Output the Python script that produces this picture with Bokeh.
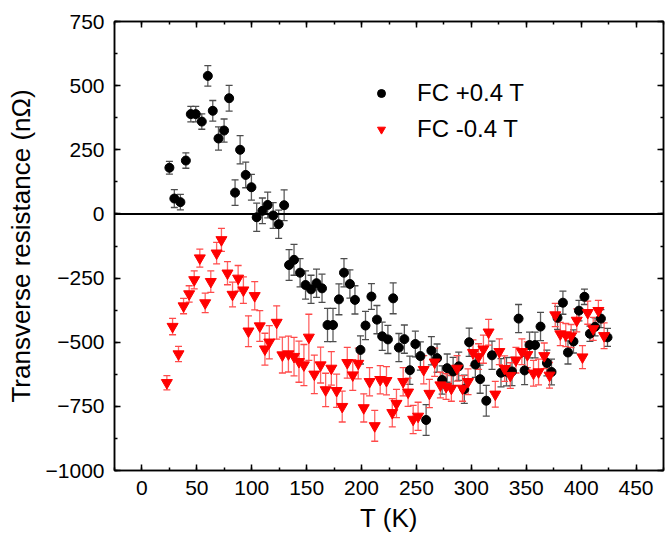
import numpy as np
from bokeh.plotting import figure
from bokeh.models import (ColumnDataSource, Whisker, TeeHead, Span, LinearAxis,
                          Legend, LegendItem, FixedTicker, Range1d)
from bokeh.embed import file_html
from bokeh.resources import INLINE

# ---- data: FC +0.4 T (black circles) ----
T_pos = [25, 29.5, 35, 40, 44.5, 49, 54.5, 60, 64.5, 69.7, 74.8, 79.4, 84.8, 89.4, 94.5,
         99.7, 104.5, 109.7, 114.5, 119.5, 124.5, 129.5, 134, 138.5, 144, 149, 154, 159,
         164, 169, 174, 179.4, 184, 189.4, 194, 199, 203.6, 209, 214, 218.8, 224, 228.8,
         234, 239, 244, 249, 253.6, 258.8, 263.6, 268.8, 273.4, 278, 283.4, 288.5, 293.6,
         298, 303.6, 308, 313.6, 318.8, 327, 332, 337, 343, 348.5, 353, 358, 363, 368.8,
         373, 378.5, 383.4, 388, 393, 398, 403, 408, 412.7, 418, 424]
R_pos = [180, 60, 46, 208, 389, 389, 360, 538, 402, 294, 325, 451, 83, 250, 152,
         104, -13, 12, 35, -6, -40, 34, -199, -179, -229, -277, -294, -270,
         -290, -433, -433, -333, -229, -273, -335, -530, -435, -322, -412, -477, -489, -329,
         -521, -488, -609, -507, -554, -803, -533, -562, -647, -601, -614, -594, -683,
         -500, -587, -644, -728, -551, -619, -615, -614, -408, -610, -511, -511, -439, -581,
         -616, -405, -346, -540, -497, -377, -323, -467, -440, -408, -481]
E_pos = [25, 35, 30, 30, 30, 30, 30, 40, 40, 45, 45, 50, 50, 55, 50,
         50, 55, 50, 50, 50, 55, 60, 60, 60, 55, 55, 55, 55,
         55, 65, 65, 60, 55, 55, 55, 55, 55, 50, 55, 55, 55, 60,
         55, 55, 55, 50, 55, 60, 55, 55, 55, 55, 55, 55, 55,
         55, 50, 55, 60, 55, 55, 55, 55, 55, 55, 50, 50, 55, 50,
         50, 45, 45, 45, 45, 40, 30, 30, 35, 35, 35]

# ---- data: FC -0.4 T (red down-triangles) ----
T_neg = [22.7, 27.9, 33.3, 37.9, 43, 47.6, 52.7, 57.6, 62.7, 68, 72.4, 77.9, 82.5, 87.6,
         92.4, 97, 102.7, 107.3, 112, 116, 122.7, 127.9, 133.4, 138.5, 143, 147.5, 152,
         157, 162.7, 167.3, 172.5, 177.3, 182.4, 187, 192, 197, 202, 207.3, 212, 217,
         222.7, 228, 231.8, 237.9, 242.4, 247, 251.5, 256.6, 261.8, 266.6, 271.8, 277,
         281.8, 287, 292, 297, 301.5, 306.6, 311, 315.7, 321.8, 325.5, 330.3, 335.5,
         340.6, 346, 351, 356.6, 361.2, 366.4, 371.2, 376.4, 381, 386, 390.9, 396,
         401.2, 406, 411, 415.7, 420.9]
R_neg = [-658, -439, -546, -359, -312, -257, -172, -347, -264, -153, -101, -231, -314, -251,
         -297, -457, -319, -437, -527, -500, -423, -550, -546, -556, -576, -589, -481,
         -625, -589, -686, -602, -689, -751, -580, -628, -583, -756, -654, -826, -646,
         -650, -775, -739, -654, -695, -801, -789, -607, -700, -578, -667, -673,
         -680, -602, -680, -654, -541, -556, -527, -461, -703, -537, -603, -630,
         -570, -537, -549, -621, -616, -553, -629, -394, -468, -472, -476, -415,
         -558, -385, -448, -377, -475]
E_neg = [28, 32, 30, 30, 32, 35, 35, 38, 42, 42, 45, 45, 48, 50,
         52, 60, 55, 60, 62, 65, 65, 70, 70, 75, 80, 80, 90,
         75, 70, 65, 65, 65, 60, 60, 60, 60, 55, 55, 60, 55,
         55, 55, 55, 55, 55, 55, 55, 55, 55, 55, 50, 50,
         50, 50, 50, 50, 50, 50, 55, 50, 50, 50, 50, 50,
         50, 50, 50, 50, 50, 50, 50, 45, 45, 45, 45, 45,
         45, 45, 45, 40, 50]

x_ticks = [0, 50, 100, 150, 200, 250, 300, 350, 400, 450]
y_ticks = [-1000, -750, -500, -250, 0, 250, 500, 750]

FONT = "Liberation Sans"

src_pos = ColumnDataSource(dict(x=T_pos, y=R_pos,
                                lo=np.array(R_pos) - np.array(E_pos),
                                hi=np.array(R_pos) + np.array(E_pos)))
src_neg = ColumnDataSource(dict(x=T_neg, y=R_neg,
                                lo=np.array(R_neg) - np.array(E_neg),
                                hi=np.array(R_neg) + np.array(E_neg)))

p = figure(width=670, height=541, x_range=Range1d(-25, 475), y_range=Range1d(-1000, 750),
           output_backend="svg", toolbar_location=None,
           min_border_left=114, min_border_right=7, min_border_top=21, min_border_bottom=71,
           background_fill_color="white", border_fill_color="white",
           outline_line_color="black", outline_line_width=1.5)
p.grid.visible = False


def style_axis(ax, labels=True):
    ax.major_tick_in = 6
    ax.major_tick_out = 0
    ax.minor_tick_in = 3
    ax.minor_tick_out = 0
    ax.axis_line_width = 1.5
    ax.major_tick_line_width = 1.5
    ax.minor_tick_line_width = 1.5
    ax.axis_line_color = "black"
    ax.major_tick_line_color = "black"
    ax.minor_tick_line_color = "black"
    ax.major_label_text_font = FONT
    if labels:
        ax.major_label_text_color = "black"
        ax.major_label_text_font_size = "21px"
    else:
        ax.major_label_text_color = None
        ax.major_label_text_font_size = "0px"
    ax.axis_label_text_font = FONT
    ax.axis_label_text_font_style = "normal"
    ax.axis_label_text_color = "black"


p.xaxis.ticker = FixedTicker(ticks=x_ticks, minor_ticks=list(range(-25, 476, 25)))
p.yaxis.ticker = FixedTicker(ticks=y_ticks, minor_ticks=list(range(-1000, 751, 125)))
style_axis(p.xaxis[0])
style_axis(p.yaxis[0])
p.xaxis.axis_label = "T (K)"
p.yaxis.axis_label = "Transverse resistance (nΩ)"
p.xaxis.axis_label_text_font_size = "26px"
p.yaxis.axis_label_text_font_size = "26px"
p.xaxis.major_label_standoff = 10
p.yaxis.major_label_standoff = 10
p.xaxis.axis_label_standoff = 5
p.yaxis.axis_label_standoff = 7

ax_top = LinearAxis(ticker=FixedTicker(ticks=x_ticks, minor_ticks=list(range(-25, 476, 25))),
                    major_label_standoff=0)
ax_right = LinearAxis(ticker=FixedTicker(ticks=y_ticks, minor_ticks=list(range(-1000, 751, 125))),
                      major_label_standoff=0)
style_axis(ax_top, labels=False)
style_axis(ax_right, labels=False)
p.add_layout(ax_top, "above")
p.add_layout(ax_right, "right")

p.add_layout(Span(location=0, dimension="width", line_color="black", line_width=2))

w_pos = Whisker(source=src_pos, base="x", upper="hi", lower="lo",
                line_color="#4d4d4d", line_width=1.3, line_alpha=0.9,
                upper_head=TeeHead(size=7, line_color="#4d4d4d", line_width=1.3),
                lower_head=TeeHead(size=7, line_color="#4d4d4d", line_width=1.3))
w_neg = Whisker(source=src_neg, base="x", upper="hi", lower="lo",
                line_color="#ff4a4a", line_width=1.3, line_alpha=0.85,
                upper_head=TeeHead(size=7, line_color="#ff4a4a", line_width=1.3),
                lower_head=TeeHead(size=7, line_color="#ff4a4a", line_width=1.3))
p.add_layout(w_pos)
p.add_layout(w_neg)

r_pos = p.scatter("x", "y", source=src_pos, marker="circle", size=9,
                  fill_color="black", line_color="black")
r_neg = p.scatter("x", "y", source=src_neg, marker="inverted_triangle", size=11,
                  fill_color="#ff0000", line_color="#ff0000")

legend = Legend(items=[LegendItem(label="FC +0.4 T", renderers=[r_pos]),
                       LegendItem(label="FC -0.4 T", renderers=[r_neg])],
                location=(257, 327), label_text_font=FONT, label_text_font_size="24px",
                label_text_color="black", glyph_width=20, glyph_height=24, label_height=24,
                label_standoff=26, spacing=8, padding=0, margin=0,
                border_line_color=None, background_fill_alpha=0)
p.add_layout(legend)

open("out.html", "w").write(file_html(p, INLINE))
